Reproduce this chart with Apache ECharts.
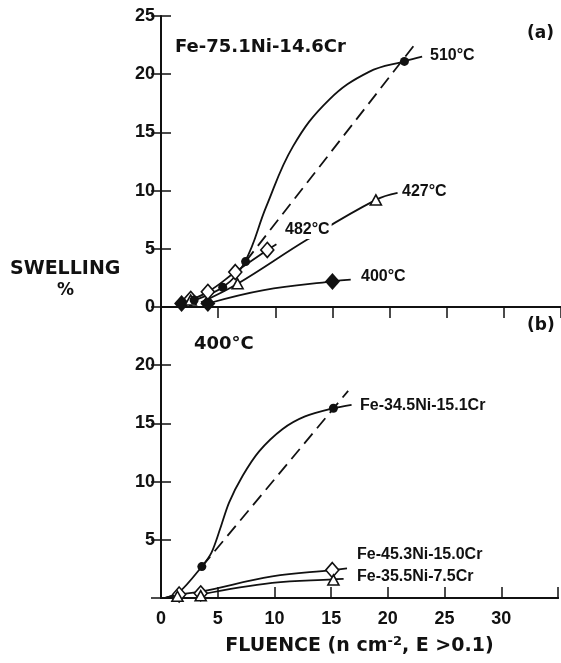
<!DOCTYPE html>
<html>
<head>
<meta charset="utf-8">
<script src="https://cdn.jsdelivr.net/npm/echarts@6/dist/echarts.min.js"></script>
<style>
  html, body { margin: 0; padding: 0; background: #fff; }
  #chart { width: 561px; height: 663px; }
</style>
</head>
<body>
<div id="chart"></div>
<script>
// Axis ticks
const xTicks = [0, 5, 10, 15, 20, 25, 30, 35];
const yTicks = [0, 5, 10, 15, 20, 25];

// (a) Fe-75.1Ni-14.6Cr, fluence vs swelling by irradiation temperature
const pts510 = [[2.9, 0.6], [5.4, 1.7], [7.4, 3.9], [21.3, 21.1]];
const fit510 = [[2.0, 0.3], [5.4, 1.7], [7.35, 3.9], [9.2, 8.6], [11.55, 13.8], [14.7, 17.8],
                [18.2, 20.2], [21.3, 21.1], [22.85, 21.5]];
const dash510 = [[7.4, 3.9], [22.4, 22.8]];

const pts482 = [[2.6, 0.7], [4.1, 1.3], [6.5, 3.0], [9.3, 4.9]];
const fit482 = [[1.8, 0.3], [4.1, 1.3], [6.5, 3.0], [9.3, 4.9], [10.1, 5.4]];

const pts427 = [[2.6, 0.6], [6.7, 2.0], [18.8, 9.2]];
const fit427 = [[3.5, 0.4], [6.7, 2.0], [12.8, 5.8], [18.8, 9.2], [20.7, 9.8]];

const pts400 = [[1.8, 0.3], [4.1, 0.3], [15.0, 2.2]];
const fit400 = [[4.1, 0.3], [9.0, 1.45], [15.0, 2.2], [16.6, 2.35]];

// (b) 400°C, three alloys
const ptsA = [[3.6, 2.7], [15.2, 16.3]];
const fitA = [[0.3, 0.0], [1.6, 0.5], [3.6, 2.7], [4.45, 3.9], [5.2, 5.9], [6.0, 8.2], [7.2, 10.5],
              [8.65, 12.6], [10.7, 14.5], [12.7, 15.6], [15.2, 16.3], [16.8, 16.6]];
const dashA = [[3.6, 2.7], [16.5, 17.8]];

const ptsB = [[1.6, 0.3], [3.5, 0.4], [15.1, 2.4]];
const fitB = [[0.3, 0.0], [1.6, 0.3], [3.5, 0.55], [9.8, 1.85], [15.1, 2.4], [16.4, 2.55]];

const ptsC = [[1.45, 0.15], [3.5, 0.2], [15.2, 1.55]];
const fitC = [[3.5, 0.3], [9.8, 1.3], [15.2, 1.6], [16.1, 1.65]];

const INK = '#111';
const tickFont = { fontFamily: 'Liberation Sans', fontWeight: 'bold', fontSize: 18, color: INK };

function xAxis(grid, pos, opts) {
  return Object.assign({
    type: 'value', gridIndex: grid, position: pos, min: 0, max: 35, interval: 5,
    axisLine: { show: true, lineStyle: { color: INK, width: 2 } },
    axisTick: { show: false },
    axisLabel: { show: false },
    splitLine: { show: false }
  }, opts || {});
}
function yAxis(grid, pos, opts) {
  return Object.assign({
    type: 'value', gridIndex: grid, position: pos, min: 0, max: 25, interval: 5,
    axisLine: { show: true, lineStyle: { color: INK, width: 2 } },
    axisTick: { show: true, inside: true, length: 10, lineStyle: { color: INK, width: 1.5 } },
    axisLabel: { show: false },
    splitLine: { show: false }
  }, opts || {});
}

const curve = (data, xi, yi, extra) => Object.assign({
  type: 'line', data, xAxisIndex: xi, yAxisIndex: yi, smooth: 0.4,
  showSymbol: false, silent: true, z: 2,
  lineStyle: { color: INK, width: 1.8 }
}, extra || {});
const marks = (data, xi, yi, symbol, size, filled) => ({
  type: 'scatter', data, xAxisIndex: xi, yAxisIndex: yi, symbol, symbolSize: size,
  silent: true, z: 5,
  itemStyle: { color: filled ? INK : '#fff', borderColor: INK, borderWidth: filled ? 0 : 1.6, opacity: 1 }
});

const labelFont = { fontFamily: 'Liberation Sans', fontWeight: 'bold', fontSize: 16, fill: INK };
const txt = (x, y, text, style) => ({
  type: 'text', left: x, top: y, z: 50,
  style: Object.assign({ text }, labelFont, style || {})
});

const chart = echarts.init(document.getElementById('chart'), null, { renderer: 'canvas' });
chart.setOption({
  animation: false,
  backgroundColor: '#fff',
  grid: [
    { left: 161, top: 16, width: 402.5, height: 291 },
    { left: 161, top: 307, width: 402.5, height: 291 }
  ],
  xAxis: [
    xAxis(0, 'bottom'),
    xAxis(0, 'top', { axisTick: { show: true, inside: true, length: 11, lineStyle: { color: INK, width: 1.5 } } }),
    xAxis(1, 'bottom', {
      axisTick: { show: true, inside: true, length: 11, lineStyle: { color: INK, width: 1.5 } },
      axisLabel: Object.assign({ show: true, margin: 12,
        formatter: v => (xTicks.indexOf(v) >= 0 && v < 35) ? String(v) : '' }, tickFont),
      name: 'FLUENCE (n cm{sup|-2}, E >0.1)',
      nameLocation: 'middle', nameGap: 37,
      nameTextStyle: {
        fontFamily: 'DejaVu Sans', fontWeight: 'bold', fontSize: 19, color: INK,
        rich: { sup: { fontFamily: 'DejaVu Sans', fontWeight: 'bold', fontSize: 13, color: INK, padding: [0, 0, 9, 0] } }
      }
    }),
    xAxis(1, 'top')
  ],
  yAxis: [
    yAxis(0, 'left', { axisLabel: Object.assign({ show: true, margin: 6,
      formatter: v => yTicks.indexOf(v) >= 0 ? String(v) : '' }, tickFont) }),
    yAxis(0, 'right', { axisLine: { show: false } }),
    yAxis(1, 'left', { axisLabel: Object.assign({ show: true, margin: 6,
      formatter: v => (v === 0 || v === 25) ? '' : String(v) }, tickFont) }),
    yAxis(1, 'right', { axisLine: { show: false } })
  ],
  series: [
    curve(fit510, 0, 0),
    curve(dash510, 0, 0, { smooth: false, lineStyle: { color: INK, width: 1.8, type: [13, 7] } }),
    curve(fit482, 0, 0),
    curve(fit427, 0, 0),
    curve(fit400, 0, 0),
    marks(pts400, 0, 0, 'diamond', [15, 17], true),
    marks(pts482, 0, 0, 'diamond', [13, 15], false),
    marks(pts427, 0, 0, 'triangle', [11, 10], false),
    marks(pts510, 0, 0, 'circle', 9, true),

    curve(fitA, 2, 2, { smooth: 0.3 }),
    curve(dashA, 2, 2, { smooth: false, lineStyle: { color: INK, width: 1.8, type: [13, 7] } }),
    curve(fitB, 2, 2),
    curve(fitC, 2, 2),
    marks(ptsB, 2, 2, 'diamond', [13, 15], false),
    marks(ptsC, 2, 2, 'triangle', [11, 10], false),
    marks(ptsA, 2, 2, 'circle', 9, true)
  ],
  graphic: [
    txt(10, 260, 'SWELLING', { fontFamily: 'DejaVu Sans', fontSize: 19 }),
    txt(57, 282, '%', { fontFamily: 'DejaVu Sans', fontSize: 17 }),
    txt(175, 38, 'Fe-75.1Ni-14.6Cr', { fontFamily: 'DejaVu Sans', fontSize: 18 }),
    txt(527, 25, '(a)', { fontFamily: 'DejaVu Sans', fontSize: 17 }),
    txt(527, 317, '(b)', { fontFamily: 'DejaVu Sans', fontSize: 17 }),
    txt(194, 335, '400°C', { fontFamily: 'DejaVu Sans', fontSize: 18 }),
    txt(430, 48, '510°C'),
    txt(402, 184, '427°C'),
    txt(283, 221, '482°C', { backgroundColor: '#fff', padding: [1, 2, 1, 2] }),
    txt(361, 269, '400°C'),
    txt(360, 398, 'Fe-34.5Ni-15.1Cr'),
    txt(357, 547, 'Fe-45.3Ni-15.0Cr'),
    txt(357, 569, 'Fe-35.5Ni-7.5Cr')
  ]
});
</script>
</body>
</html>
